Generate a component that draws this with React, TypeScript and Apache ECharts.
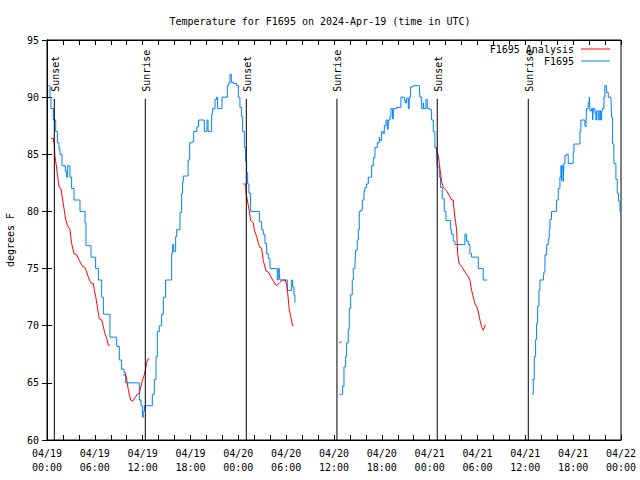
import React, { useEffect, useRef } from "react";
import * as echarts from "echarts";

// time in hours since 04/19 00:00 UTC, temperature in degrees F
const obsSeg1: number[][] = [
  [0.17, 91], [0.38, 90], [0.5, 89], [0.79, 88], [1.09, 87], [1.3, 86], [1.51, 85.5], [1.63, 85], [1.88, 84], [2.3, 83.5],
  [2.47, 83], [2.59, 84], [2.76, 84], [2.88, 83], [3.09, 82], [3.39, 81], [3.85, 81], [4.14, 80], [4.56, 80], [4.77, 79],
  [4.89, 77], [5.39, 77], [5.52, 76], [6.1, 75], [6.44, 74], [6.86, 72.5], [7.07, 71], [7.69, 71], [7.9, 69], [8.32, 69],
  [8.74, 68.2], [9.07, 67], [9.36, 66.2], [9.66, 65.9], [9.87, 65], [11.25, 65], [11.58, 63.5], [11.79, 63], [11.96, 62],
  [12.08, 62.5], [12.21, 63], [13.0, 63], [13.21, 64], [13.46, 65.3], [13.67, 67.3], [13.84, 69.5], [14.09, 70], [14.38, 71],
  [14.59, 72.5], [14.88, 74], [15.43, 74], [15.64, 76.3], [15.76, 77.1], [15.89, 76.5], [16.14, 77.8], [16.26, 78.4],
  [16.68, 79.9], [16.89, 81.6], [17.01, 82.6], [17.1, 83.1], [17.5, 83.1], [17.7, 84.5], [17.9, 86], [18.2, 86.1], [18.4, 87],
  [18.8, 87.4], [19.0, 88], [19.6, 88], [19.73, 87], [19.95, 87], [20.07, 88], [20.2, 87], [20.53, 87], [20.65, 88.5],
  [20.78, 89], [21.07, 89.8], [21.28, 90], [21.4, 89], [21.78, 89], [21.95, 90], [22.45, 90], [22.62, 91], [22.79, 91.2],
  [22.95, 92], [23.12, 91.3], [23.37, 91.2], [23.79, 91], [24.0, 90], [24.2, 89.1], [24.41, 88.3], [24.54, 87], [24.75, 85.6],
  [24.92, 84.4], [25.04, 83.4], [25.17, 82.4], [25.33, 81.6], [25.54, 80], [26.51, 80], [26.64, 79.1], [26.93, 78.4],
  [27.13, 78], [27.34, 77.2], [27.55, 76.3], [27.76, 75.9], [27.97, 75], [28.8, 75], [28.89, 74], [29.01, 75], [29.14, 74.5],
  [29.22, 74], [29.97, 74], [30.14, 73.1], [30.48, 73.1], [30.69, 74], [30.81, 73.4], [30.98, 72.7], [31.1, 72],
];
const obsSeg2: number[][] = [
  [36.66, 64], [36.96, 64], [37.08, 64.7], [37.25, 66.4], [37.46, 67.3], [37.58, 68.5], [37.79, 69.7], [37.92, 71.5],
  [38.09, 72.7], [38.29, 74], [38.42, 75], [38.63, 75.4], [38.71, 76.6], [38.92, 77.5], [39.05, 78.4], [39.17, 80],
  [39.38, 80.1], [39.55, 81], [39.76, 81.8], [39.88, 82.1], [40.09, 82.4], [40.3, 83], [40.59, 83], [40.72, 84], [40.93, 84.7],
  [41.14, 85.6], [41.43, 86], [41.68, 86.5], [41.76, 86.2], [41.97, 87], [42.18, 86.8], [42.31, 87.5], [42.52, 88],
  [42.68, 87.2], [42.81, 88], [43.02, 88.3], [43.14, 89], [43.35, 88.1], [43.44, 89], [43.86, 89.1], [44.27, 89.1], [44.4, 90],
  [44.69, 90], [44.82, 89.7], [44.98, 89.5], [45.11, 89.9], [45.32, 89], [45.44, 90], [45.61, 90.9], [45.94, 91], [46.7, 91],
  [46.78, 90], [46.99, 89], [47.2, 89.5], [47.28, 89], [47.53, 89.8], [47.7, 89], [48.03, 88.9], [48.24, 88], [48.45, 87],
  [48.66, 85.6], [48.87, 85], [48.95, 83.9], [49.21, 83], [49.37, 82.1], [49.58, 81.1], [49.83, 80], [50.04, 79.2],
  [50.54, 79.2], [50.63, 78.4], [50.75, 78], [50.96, 77.4], [51.17, 77.1], [52.22, 77.1], [52.42, 78], [52.63, 77.4],
  [52.84, 77.1], [53.05, 76.3], [53.26, 76], [54.01, 76], [54.1, 75], [54.52, 75], [54.72, 74], [55.23, 74],
];
const obsSeg3: number[][] = [
  [60.87, 64], [61.0, 65.3], [61.12, 67.3], [61.29, 68.8], [61.41, 70.2], [61.54, 71.7], [61.71, 73.1], [61.83, 74],
  [62.25, 74], [62.33, 74.7], [62.46, 76.2], [62.67, 77.1], [62.88, 77.6], [63.0, 78.4], [63.09, 79.3], [63.29, 80],
  [63.8, 80], [63.92, 81], [64.13, 82], [64.34, 83], [64.46, 84], [64.55, 82.7], [64.63, 84], [64.76, 82.6], [64.84, 84.2],
  [64.97, 84.9], [65.18, 85], [65.38, 84.2], [65.89, 84.2], [66.01, 85.2], [66.1, 85.9], [66.64, 85.9], [66.85, 87],
  [66.97, 88], [67.35, 88], [67.47, 87.5], [67.6, 87.4], [67.68, 89], [67.89, 89.5], [68.02, 90], [68.1, 88.8], [68.31, 89],
  [68.44, 88], [68.52, 89], [68.73, 88.6], [68.85, 88], [68.94, 88.8], [69.15, 88], [69.27, 88.8], [69.44, 88], [69.57, 88.8],
  [69.69, 89], [69.86, 90], [69.98, 91], [70.19, 90.4], [70.4, 90], [70.74, 90], [70.82, 88.2], [70.95, 85.9], [71.11, 84.2],
  [71.36, 82.8], [71.53, 81.6], [71.7, 80.9], [71.87, 80], [72, 80],
];

const anaSeg1: number[][] = [
  [0.5, 86.4], [0.79, 86.4], [0.92, 85.8], [1.0, 84.8], [1.13, 84.2], [1.3, 83.3], [1.42, 82.6], [1.55, 82.1], [1.76, 82],
  [1.96, 81], [2.17, 80.1], [2.34, 79.3], [2.55, 78.8], [2.88, 78.4], [3.09, 77.2], [3.39, 76.3], [3.72, 76.2], [4.06, 75.7],
  [4.47, 75.2], [4.77, 75.1], [4.97, 74.7], [5.31, 74], [5.6, 73.7], [5.81, 73.7], [5.94, 73.1], [6.15, 72.4], [6.35, 71.5],
  [6.56, 70.6], [6.86, 70.5], [7.07, 69.9], [7.27, 69.3], [7.48, 68.9], [7.69, 68.3], [7.9, 68.3],
];
const anaSeg2: number[][] = [
  [9.57, 65.7], [9.87, 65.7], [9.99, 65.3], [10.2, 64.4], [10.49, 63.5], [10.74, 63.4], [11.04, 63.7], [11.33, 64],
  [11.58, 64.1], [11.79, 64.7], [12.0, 65.3], [12.21, 65.7], [12.37, 66.2], [12.5, 66.8], [12.71, 67.1], [12.83, 67.1],
];
const anaSeg3: number[][] = [
  [24.62, 82.4], [24.92, 82.4], [24.97, 81.6], [25.13, 81], [25.38, 80], [25.54, 79.2], [25.88, 79], [26.0, 78.4],
  [26.3, 77.8], [26.63, 76.9], [26.92, 76.8], [27.13, 75.7], [27.47, 74.8], [27.76, 74.7], [28.3, 74], [28.8, 73.5],
  [29.22, 73.8], [29.56, 74], [29.89, 74], [30.06, 73.6], [30.18, 72.9], [30.39, 71.4], [30.6, 70.7], [30.81, 70], [30.94, 70],
];
const anaSeg4: number[][] = [[36.66, 68.5], [36.96, 68.6]];
const anaSeg5: number[][] = [
  [48.79, 85.6], [48.95, 85.2], [49.08, 84.9], [49.21, 84.2], [49.37, 83.3], [49.5, 82.6], [49.71, 82.1], [50.13, 81.8],
  [50.54, 81.3], [50.75, 81], [50.96, 81], [51.09, 79.9], [51.25, 79.1], [51.38, 78.4], [51.51, 76.3], [51.71, 75.4],
  [52.01, 75.2], [52.42, 74.7], [52.84, 74.3], [53.05, 74], [53.26, 73.1], [53.47, 72.5], [53.68, 71.9], [53.89, 71.7],
  [54.1, 71.2], [54.31, 70.5], [54.52, 69.9], [54.72, 69.6], [54.85, 69.8], [54.97, 70.1],
];
const anaSeg6: number[][] = [[60.87, 65.3], [60.97, 65.3]];

const sunTimes = [0.92, 12.33, 25.0, 36.37, 48.95, 60.37];
const sunLabels = ["Sunset", "Sunrise", "Sunset", "Sunrise", "Sunset", "Sunrise"];
const sunLineTop = 89.85;

const xTickLabels = [
  "04/19\n00:00", "04/19\n06:00", "04/19\n12:00", "04/19\n18:00",
  "04/20\n00:00", "04/20\n06:00", "04/20\n12:00", "04/20\n18:00",
  "04/21\n00:00", "04/21\n06:00", "04/21\n12:00", "04/21\n18:00",
  "04/22\n00:00",
];

const titleText = "Temperature for F1695 on 2024-Apr-19 (time in UTC)";
const FONT = "DejaVu Sans Mono";
const RED = "#ff0000";
const BLUE = "#0080ff";

export default function App() {
  const ref = useRef<HTMLDivElement>(null);
  useEffect(() => {
    document.body.style.margin = "0";
    const chart = echarts.init(ref.current!, null, { renderer: "svg" });
    const axisCommon = {
      axisLine: { lineStyle: { color: "#000", width: 1 } },
      splitLine: { show: false },
    };
    const anaSeries = [anaSeg1, anaSeg2, anaSeg3, anaSeg4, anaSeg5, anaSeg6].map((seg) => ({
      name: "F1695 Analysis",
      type: "line",
      data: seg,
      symbol: "none",
      lineStyle: { color: RED, width: 1 },
      itemStyle: { color: RED },
      z: 3,
    }));
    const obsSeries = [obsSeg1, obsSeg2, obsSeg3].map((seg) => ({
      name: "F1695",
      type: "line",
      step: "end",
      data: seg,
      symbol: "none",
      lineStyle: { color: BLUE, width: 1 },
      itemStyle: { color: BLUE },
      z: 2,
    }));
    const legendCommon = {
      right: 30, padding: 0, align: "right", icon: "rect",
      itemWidth: 29, itemHeight: 1, itemGap: 0,
      textStyle: { fontFamily: FONT, fontSize: 10, color: "#000", padding: [0, 2, 0, 0] },
    };
    chart.setOption({
      animation: false,
      backgroundColor: "#fff",
      textStyle: { fontFamily: FONT },
      title: {
        text: titleText,
        left: "center",
        top: 11,
        textStyle: { fontFamily: FONT, fontSize: 10, fontWeight: "normal", color: "#000" },
      },
      legend: [
        { ...legendCommon, data: ["F1695 Analysis"], top: 44 },
        { ...legendCommon, data: ["F1695"], top: 56 },
      ],
      grid: {
        left: 47, right: 19, top: 40, bottom: 40, show: true, borderColor: "#000", borderWidth: 1,
        containLabel: false, outerBoundsMode: "none",
      },
      xAxis: [
        {
          type: "value", min: 0, max: 72, interval: 2, position: "bottom",
          ...axisCommon,
          axisTick: { inside: true, length: 5, lineStyle: { color: "#000" } },
          axisLabel: {
            margin: 6, fontFamily: FONT, fontSize: 10, color: "#000", lineHeight: 14.5,
            formatter: (v: number) => (Math.round(v) % 6 === 0 ? xTickLabels[Math.round(v) / 6] : ""),
          },
        },
        {
          type: "value", min: 0, max: 72, interval: 2, position: "top",
          ...axisCommon,
          axisTick: { inside: true, length: 5, lineStyle: { color: "#000" } },
          axisLabel: { show: false },
        },
      ],
      yAxis: [
        {
          type: "value", min: 60, max: 95, interval: 5, position: "left",
          ...axisCommon,
          name: "degrees F", nameLocation: "middle", nameRotate: 90, nameGap: 32,
          nameTextStyle: { fontFamily: FONT, fontSize: 10, color: "#000" },
          axisTick: { inside: true, length: 5, lineStyle: { color: "#000" } },
          axisLabel: { margin: 8, fontFamily: FONT, fontSize: 10, color: "#000" },
        },
        {
          type: "value", min: 60, max: 95, interval: 5, position: "right",
          ...axisCommon,
          axisTick: { inside: true, length: 5, lineStyle: { color: "#000" } },
          axisLabel: { show: false },
        },
      ],
      series: [
        ...anaSeries,
        ...obsSeries,
        {
          name: "sun",
          type: "custom",
          data: sunTimes.map((t, i) => [t, i]),
          z: 4,
          renderItem: (params: any, api: any) => {
            const t = api.value(0);
            const idx = api.value(1);
            const p0 = api.coord([t, 60]);
            const p1 = api.coord([t, sunLineTop]);
            return {
              type: "group",
              children: [
                {
                  type: "line",
                  shape: { x1: p0[0], y1: p0[1], x2: p1[0], y2: p1[1] },
                  style: { stroke: "#000", lineWidth: 1 },
                },
                {
                  type: "text",
                  x: p1[0] + 1,
                  y: p1[1] - 7,
                  rotation: Math.PI / 2,
                  style: {
                    text: sunLabels[idx],
                    font: `10px "${FONT}"`,
                    fill: "#000",
                    align: "left",
                    verticalAlign: "middle",
                  },
                },
              ],
            };
          },
        },
      ],
    });
    return () => chart.dispose();
  }, []);
  return <div ref={ref} style={{ width: 640, height: 480 }} />;
}
